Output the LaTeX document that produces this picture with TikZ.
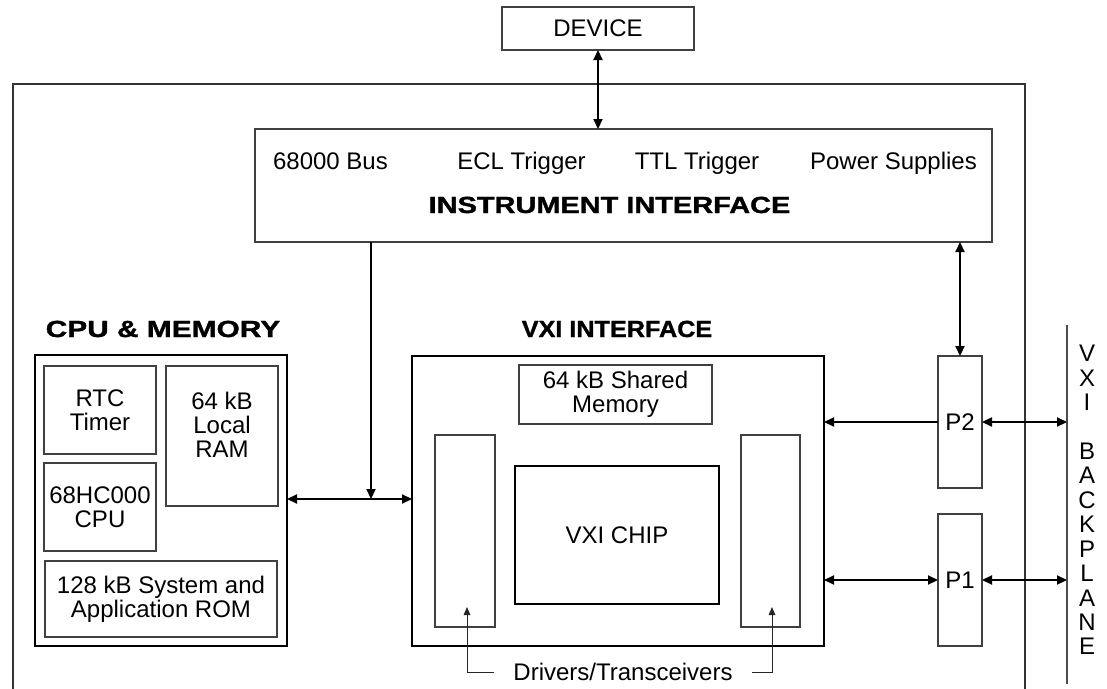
\documentclass[tikz,border=0pt]{standalone}
\usepackage{fontspec}
\usepackage{graphicx}
\setmainfont{Liberation Sans}
\newfontfamily\heavyfont{Liberation Sans}[BoldFeatures={FakeBold=1.2}]
\usetikzlibrary{arrows.meta,calc}
\begin{document}
\begin{tikzpicture}[x=0.75pt,y=-0.75pt,
 every node/.style={font=\fontsize{18}{18}\selectfont, inner sep=0pt, outer sep=0pt, align=center},
 bx/.style 2 args={draw=black!75, line width=0.8pt, minimum width=#1*0.75pt, minimum height=#2*0.75pt},
 heavybox/.style={draw=black, line width=1.7pt},
 ttl/.style={font=\fontsize{17.5}{18}\selectfont\heavyfont\bfseries},
 dbl/.style={{Triangle[length=7.5pt,width=6.8pt]}-{Triangle[length=7.5pt,width=6.8pt]}, line width=1.35pt},
 onearrow/.style={-{Triangle[length=7.5pt,width=6.8pt]}, line width=1.35pt},
 lead/.style={-{Triangle[length=6pt,width=5pt]}, line width=0.75pt, draw=black!85}
]
\useasboundingbox (0,0) rectangle (1107,689);

% outer module outline
\draw[line width=0.9pt, draw=black!80] (13,689) -- (13,84) -- (1025,84) -- (1025,689);

% device
\node[bx={192}{43}] (device) at (598,28.5) {DEVICE};

% instrument interface
\node[bx={737}{113}] (instr) at (623.5,185.5) {};
\node[anchor=base] (l68) at (330.5,169) {68000 Bus};
\node[anchor=base] (lecl) at (521.5,169) {ECL Trigger};
\node[anchor=base] (lttl) at (697,169) {TTL Trigger};
\node[anchor=base] (lpwr) at (893.5,169) {Power Supplies};
\node[anchor=base, ttl] (linst) at (609.5,213) {\scalebox{1.24}[1]{INSTRUMENT INTERFACE}};

% CPU & memory
\node[anchor=base, ttl] (tcpu) at (163,337) {\scalebox{1.28}[1]{CPU \& MEMORY}};
\node[bx={252}{291}, heavybox] (cpu) at (161,500.5) {};
\node[bx={112}{88}] (rtc) at (100,410) {RTC\\Timer};
\node[bx={112}{88}] (mpu) at (100,507) {68HC000\\CPU};
\node[bx={112}{140}] (ram) at (222,436) {};
\node (ramtxt) at (222,424.5) {64 kB\\Local\\RAM};
\node[bx={232}{76}] (rom) at (161,599) {128 kB System and\\Application ROM};

% VXI interface
\node[anchor=base, ttl] (tvxi) at (617,337) {\scalebox{1.08}[1]{VXI INTERFACE}};
\node[bx={412}{290}, heavybox] (vxi) at (618,501) {};
\node[bx={193}{59}] (shm) at (615.5,394.5) {64 kB Shared\\Memory};
\node[bx={60}{192}] (drvL) at (465,531) {};
\node[bx={204}{138}, draw=black, line width=1.4pt] (chip) at (617,535) {VXI CHIP};
\node[bx={59}{192}] (drvR) at (770.5,531) {};

% connectors P1/P2
\node[bx={44}{132}] (p2) at (960,422) {P2};
\node[bx={44}{132}] (p1) at (960,580) {P1};

% backplane
\coordinate (bpt) at (1067,325);
\coordinate (bpb) at (1067,684);
\draw[draw=black!70, line width=0.9pt] (bpt) -- (bpb);
\foreach \ch/\k in {V/0,X/1,I/2,B/4,A/5,C/6,K/7,P/8,L/9,A/10,N/11,E/12}{
  \node (bp\k) at (1087,{353.5+24.43*\k}) {\ch};
}

% arrows
\draw[dbl] (device.south) -- (device.south |- instr.north);
\coordinate (bus) at (371,499);
\draw[onearrow] (instr.south -| bus) -- (bus);
\draw[dbl] (cpu.east |- bus) -- (vxi.west |- bus);
\draw[dbl] (p2.north |- instr.south) -- (p2.north);
\draw[onearrow] (p2.west) -- (p2.west -| vxi.east);
\draw[dbl] (p2.east) -- (p2.east -| bpt);
\draw[dbl] (vxi.east |- p1.west) -- (p1.west);
\draw[dbl] (p1.east) -- (p1.east -| bpt);

% drivers / transceivers
\node[inner xsep=19*0.75pt] (drv) at (623,672) {Drivers/Transceivers};
\coordinate (tipL) at (467,607);
\coordinate (tipR) at (772,607);
\draw[lead] (drv.west) -| (tipL);
\draw[lead] (drv.east) -| (tipR);
\end{tikzpicture}
\end{document}
